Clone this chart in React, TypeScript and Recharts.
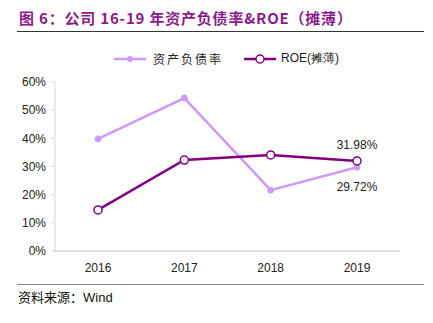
import React from "react";
import { LineChart, Line, XAxis, YAxis, LabelList } from "recharts";

const years = ["2016", "2017", "2018", "2019"];
const debtRatio = [39.8, 54.3, 21.6, 29.72];
const roe = [14.6, 32.3, 34.1, 31.98];
const yTicks = [0, 10, 20, 30, 40, 50, 60];

const LIGHT = "#CC99FF";
const DARK = "#800080";

const data = years.map((year, i) => ({ year, debt: debtRatio[i], roe: roe[i] }));

const font = "'Liberation Sans', Arial, sans-serif";

function LastLabel(props: any) {
  const { x, y, index, value, dy } = props;
  if (index !== years.length - 1) return null;
  return (
    <text x={x} y={y + dy} textAnchor="middle" fontSize={12} fill="#222" fontFamily={font}>
      {value.toFixed(2)}%
    </text>
  );
}

export default function App() {
  return (
    <div style={{ position: "absolute", left: 0, top: 0, width: 433, height: 323, background: "#fff" }}>
      <div
        style={{
          position: "absolute",
          left: 19,
          top: 7,
          fontFamily: "'Noto Sans CJK SC', sans-serif",
          fontWeight: "bold",
          fontSize: 15,
          color: "#8B1A89",
          letterSpacing: 0.8,
          whiteSpace: "nowrap",
        }}
      >
        图 6：公司 16-19 年资产负债率&ROE（摊薄）
      </div>
      <div style={{ position: "absolute", left: 17, top: 31, width: 407, height: 1, background: "#333" }} />

      <div style={{ position: "absolute", left: 113, top: 50, display: "flex", alignItems: "center", fontSize: 12, color: "#222" }}>
        <svg width={34} height={10}>
          <line x1={1} y1={5} x2={33} y2={5} stroke={LIGHT} strokeWidth={2.5} />
          <circle cx={17} cy={5} r={3} fill={LIGHT} />
        </svg>
        <span style={{ marginLeft: 6, fontFamily: "'Noto Sans CJK SC', sans-serif", letterSpacing: 2 }}>资产负债率</span>
        <svg width={34} height={10} style={{ marginLeft: 20 }}>
          <line x1={1} y1={5} x2={33} y2={5} stroke={DARK} strokeWidth={2.5} />
          <circle cx={17} cy={5} r={4} fill="#fff" stroke={DARK} strokeWidth={1.5} />
        </svg>
        <span style={{ marginLeft: 4, fontFamily: font }}>ROE(摊薄)</span>
      </div>

      <div style={{ position: "absolute", left: 0, top: 0 }}>
        <LineChart width={433} height={323} data={data} margin={{ top: 82, right: 33, left: 0, bottom: 42 }}>
          <XAxis
            dataKey="year"
            axisLine={{ stroke: "#BFBFBF" }}
            tickLine={false}
            tick={{ fontSize: 12, fill: "#222", fontFamily: font }}
            tickMargin={6}
            padding={{ left: 43, right: 43 }}
            height={30}
          />
          <YAxis
            domain={[0, 60]}
            ticks={yTicks}
            tickFormatter={(v: number) => `${v}%`}
            axisLine={{ stroke: "#D9D9D9" }}
            tickLine={{ stroke: "#D9D9D9" }}
            tickSize={4}
            tickMargin={5}
            tick={{ fontSize: 12, fill: "#222", fontFamily: font }}
            width={55}
          />
          <Line
            dataKey="debt"
            stroke={LIGHT}
            strokeWidth={2.5}
            dot={{ r: 3, fill: LIGHT, stroke: LIGHT, strokeWidth: 1 }}
            isAnimationActive={false}
          >
            <LabelList dataKey="debt" content={(p: any) => <LastLabel {...p} dy={24} />} />
          </Line>
          <Line
            dataKey="roe"
            stroke={DARK}
            strokeWidth={2.5}
            dot={{ r: 4, fill: "#fff", stroke: DARK, strokeWidth: 1.5 }}
            isAnimationActive={false}
          >
            <LabelList dataKey="roe" content={(p: any) => <LastLabel {...p} dy={-12} />} />
          </Line>
        </LineChart>
      </div>

      <div style={{ position: "absolute", left: 17, top: 284, width: 407, height: 1, background: "#888" }} />
      <div style={{ position: "absolute", left: 18, top: 287, fontSize: 13, color: "#111", whiteSpace: "nowrap" }}>
        <span style={{ fontFamily: "'Noto Sans CJK SC', sans-serif" }}>资料来源：</span>
        <span style={{ fontFamily: font }}>Wind</span>
      </div>
    </div>
  );
}
